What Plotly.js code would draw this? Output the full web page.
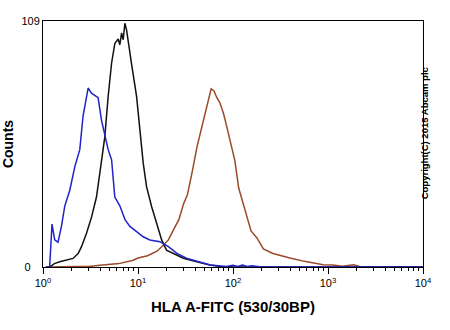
<!DOCTYPE html>
<html>
<head>
<meta charset="utf-8">
<script src="https://cdn.plot.ly/plotly-3.0.1.min.js"></script>
<style>html,body{margin:0;padding:0;background:#fff;}#chart{width:450px;height:330px;}</style>
</head>
<body>
<div id="chart"></div>
<script>
// log10 of fluorescence channel and counts
const blueLog = [0.03,0.07,0.095,0.123,0.158,0.194,0.229,0.282,0.335,0.387,0.422,0.458,0.475,0.51,0.545,0.58,0.616,0.651,0.686,0.722,0.756,0.81,0.863,0.915,0.985,1.055,1.125,1.23,1.32,1.41,1.51,1.65,1.76,1.93,2.0,2.05,2.1,2.15,2.2,2.3,4.0];
const blueCounts = [0,0,19,12,11,18,27,34,44.5,52,67,75.6,79.3,77,76,75,65,59,52,47.5,31,27,21,18,15.7,13.4,12,11.2,9,6,3.9,2.4,0.9,0.2,0.8,0.2,0.9,0.2,0.6,0,0];

const blackLog = [0.03,0.07,0.12,0.176,0.316,0.37,0.405,0.458,0.51,0.563,0.598,0.651,0.686,0.722,0.756,0.791,0.809,0.827,0.844,0.862,0.88,0.897,0.932,0.985,1.02,1.055,1.09,1.143,1.196,1.249,1.30,1.37,1.477,1.618,1.758,1.864,2.02,4.0];
const blackCounts = [0,0,1.5,2.3,3.8,6,9,15,22,31,41.6,57.8,75.6,90.4,99,101,98.5,103.7,100.7,108,105,100.7,90,75.6,60.8,46,35.6,26.8,19.4,12,7.5,6,3.9,2.3,0.9,0.2,0,0];

const redLog = [0.05,0.5,0.6,0.8,0.95,1.0,1.1,1.2,1.25,1.32,1.38,1.43,1.48,1.52,1.57,1.62,1.66,1.70,1.74,1.77,1.80,1.83,1.86,1.90,1.93,1.97,2.02,2.06,2.10,2.14,2.19,2.25,2.32,2.42,2.50,2.60,2.75,2.95,3.05,3.15,3.27,3.35,4.0];
const redCounts = [0,0.3,0.8,1.5,3,4,5,7,9,12,17,21,28,32,42,53,60,67,74,79,78,75,73,68,63,56,47,35,29,23,16,13,8,6,5,4,2.5,1,0.9,0.3,1.0,0,0];

const tickVals = [1,10,100,1000,10000];
const tickText = ["10<sup>0</sup>","10<sup>1</sup>","10<sup>2</sup>","10<sup>3</sup>","10<sup>4</sup>"];
const yTickVals = [0,109];
const yTickText = ["0\u00a0\u00a0\u00a0","109"];

const toLin = a => a.map(v => Math.pow(10, v));
const minorVals = [];
for (let d = 0; d < 4; d++) for (let m = 2; m <= 9; m++) minorVals.push(m * Math.pow(10, d));

const traces = [
  {x: toLin(redLog), y: redCounts, mode:'lines', line:{color:'#9a4a2a', width:1.5}, hoverinfo:'skip'},
  {x: toLin(blackLog), y: blackCounts, mode:'lines', line:{color:'#111111', width:1.5}, hoverinfo:'skip'},
  {x: toLin(blueLog), y: blueCounts, mode:'lines', line:{color:'#2222c8', width:1.5}, hoverinfo:'skip'}
];

const layout = {
  width:450, height:330,
  margin:{l:43, r:27, t:21, b:63},
  paper_bgcolor:'#fff', plot_bgcolor:'#fff',
  showlegend:false,
  font:{family:'Liberation Sans, Arial, sans-serif', color:'#000', size:10},
  xaxis:{
    type:'log', range:[0,4], showline:true, linecolor:'#000', linewidth:1, mirror:true,
    showgrid:false, zeroline:false, ticks:'outside', ticklen:6, tickcolor:'#000',
    tickmode:'array', tickvals:tickVals, ticktext:tickText,
    minor:{tickmode:'array', tickvals:minorVals, ticks:'outside', ticklen:3, tickcolor:'#000', showgrid:false},
    tickfont:{size:11},
    title:{text:'<b>HLA A-FITC (530/30BP)</b>', font:{size:15}, standoff:13}
  },
  yaxis:{
    range:[0,109], showline:true, linecolor:'#000', linewidth:1, mirror:true,
    showgrid:false, zeroline:false, ticks:'',
    tickmode:'array', tickvals:yTickVals, ticktext:yTickText, tickfont:{size:11},
    title:{text:'<b>Counts</b>', font:{size:14}, standoff:6}
  },
  annotations:[{
    text:'<b>Copyright(C) 2015 Abcam plc</b>', xref:'paper', yref:'paper',
    x:1.026, y:0.545, showarrow:false, textangle:-90,
    font:{size:9.5, color:'#000', family:'Liberation Sans, Arial, sans-serif'}
  }]
};

Plotly.newPlot('chart', traces, layout, {staticPlot:true, displayModeBar:false});
</script>
</body>
</html>
